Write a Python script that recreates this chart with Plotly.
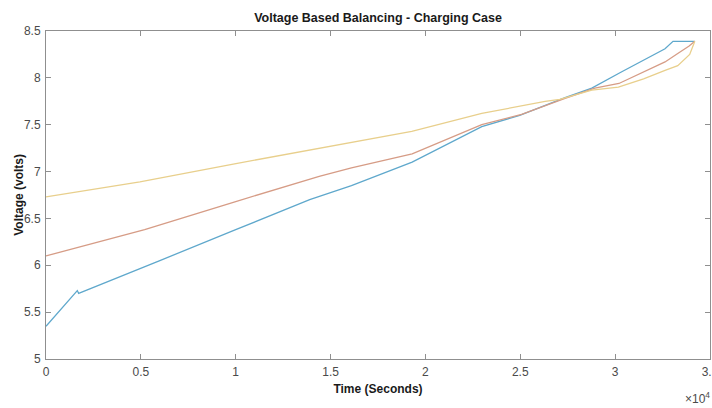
import plotly.graph_objects as go

# Charging-case voltage traces for three cells (time in seconds, voltage in volts)
t_cell1 = [0, 1580, 1650, 1720, 3400, 6000, 10000, 13900, 16100, 19300,
           22970, 24970, 27360, 28770, 30300, 32630, 33050, 34200]
v_cell1 = [5.35, 5.72, 5.73, 5.70, 5.84, 6.05, 6.38, 6.70, 6.85, 7.10,
           7.48, 7.60, 7.79, 7.89, 8.06, 8.31, 8.39, 8.39]

t_cell2 = [0, 3900, 5200, 10000, 14400, 16100, 19300, 22970, 25070, 27360,
           28930, 30200, 32630, 33300, 33900, 34200]
v_cell2 = [6.10, 6.31, 6.38, 6.68, 6.95, 7.04, 7.19, 7.50, 7.61, 7.78,
           7.89, 7.94, 8.17, 8.26, 8.34, 8.39]

t_cell3 = [0, 4950, 9870, 14440, 16540, 19280, 22970, 26310, 27080, 28770,
           30170, 31500, 32630, 33300, 33930, 34200]
v_cell3 = [6.73, 6.89, 7.08, 7.25, 7.32, 7.43, 7.62, 7.75, 7.77, 7.87,
           7.90, 7.99, 8.08, 8.13, 8.25, 8.39]

x_tick_vals = [0, 5000, 10000, 15000, 20000, 25000, 30000, 35000]
x_tick_text = ["0", "0.5", "1", "1.5", "2", "2.5", "3", "3.5"]
y_tick_vals = [5, 5.5, 6, 6.5, 7, 7.5, 8, 8.5]
y_tick_text = ["5", "5.5", "6", "6.5", "7", "7.5", "8", "8.5"]

series = [
    (t_cell1, v_cell1, "#5fa8cc"),
    (t_cell2, v_cell2, "#d69c86"),
    (t_cell3, v_cell3, "#e8cf8c"),
]

fig = go.Figure()
for t, v, color in series:
    fig.add_trace(go.Scatter(x=t, y=v, mode="lines",
                             line=dict(color=color, width=1.3),
                             showlegend=False, hoverinfo="skip"))

font_family = "Liberation Sans, Arial, Helvetica, sans-serif"
axis_color = "#8f8f8f"
label_color = "#4a4a4a"
title_color = "#1a1a1a"

common_axis = dict(
    showgrid=False, zeroline=False, showline=True, linecolor=axis_color,
    linewidth=1, mirror="ticks", ticks="inside", ticklen=5,
    tickcolor=axis_color, tickwidth=1, ticklabeloverflow="allow",
    automargin=False,
    tickfont=dict(family=font_family, size=12, color=label_color),
)

fig.update_xaxes(range=[0, 35000], tickmode="array", tickvals=x_tick_vals,
                 ticktext=x_tick_text, ticklabelstandoff=2,
                 title=dict(text="<b>Time (Seconds)</b>", standoff=6,
                            font=dict(family=font_family, size=12, color=title_color)),
                 **common_axis)
fig.update_yaxes(range=[5, 8.5], tickmode="array", tickvals=y_tick_vals,
                 ticktext=y_tick_text, ticklabelstandoff=2,
                 **common_axis)

# y-axis title placed as a rotated annotation for precise offset
fig.add_annotation(text="<b>Voltage (volts)</b>", xref="paper", yref="paper",
                   x=-0.041, y=0.5, xanchor="center", yanchor="middle",
                   textangle=-90, showarrow=False,
                   font=dict(family=font_family, size=12, color=title_color))

# exponent marker for the time axis
fig.add_annotation(text="×10<sup>4</sup>", xref="paper", yref="paper",
                   x=1.003, y=-0.088, xanchor="right", yanchor="top",
                   showarrow=False,
                   font=dict(family=font_family, size=12, color=label_color))

fig.update_layout(
    width=712, height=408,
    margin=dict(l=46, r=2, t=31, b=49),
    paper_bgcolor="white", plot_bgcolor="white",
    title=dict(text="<b>Voltage Based Balancing - Charging Case</b>",
               x=0.5, xref="paper", xanchor="center",
               y=1 - 18 / 408, yanchor="middle",
               font=dict(family=font_family, size=12.5, color=title_color)),
)

fig.write_html("out.html")
